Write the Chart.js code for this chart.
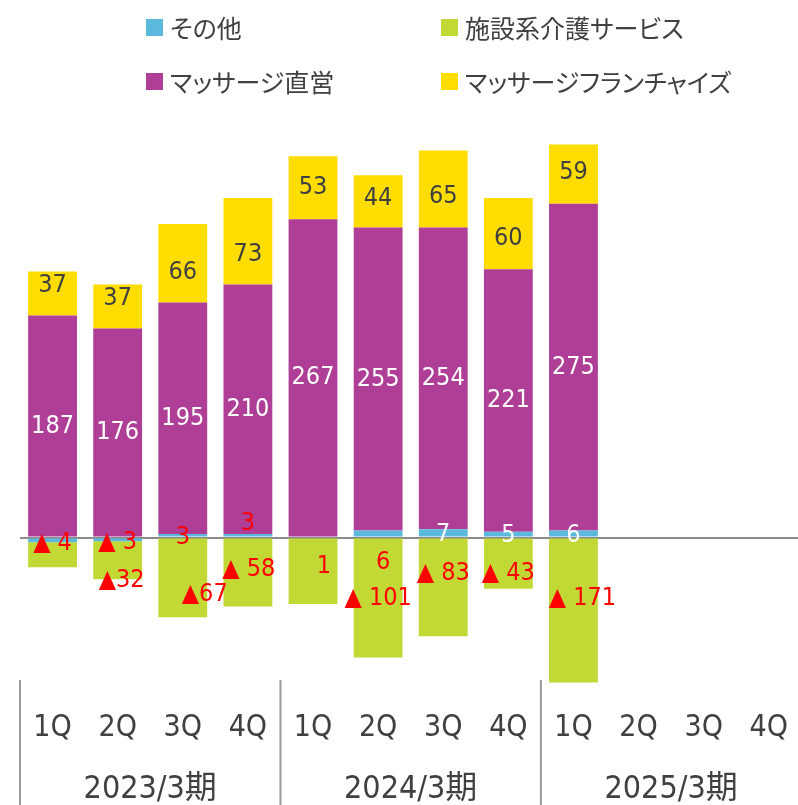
<!DOCTYPE html>
<html>
    <head>
        <title>Segment Results</title>
        <meta charset="UTF-8">
        <script src="https://cdn.jsdelivr.net/npm/chart.js@4.4.0/dist/chart.umd.min.js"></script>
        <style>
            html, body { margin: 0; padding: 0; background: #fff; overflow: hidden; }
            .wrap { position: relative; width: 798px; height: 805px; overflow: hidden; }
            .legend-item {
                position: absolute;
                display: flex;
                align-items: center;
                height: 30px;
                font-family: "Noto Sans CJK JP", sans-serif;
                font-size: 25px;
                line-height: 30px;
                color: #404040;
                font-feature-settings: "palt";
                white-space: nowrap;
            }
            .swatch { width: 17px; height: 17px; margin-right: 7px; }
        </style>
    </head>
    <body>
        <div class="wrap">
            <canvas id="segChart" width="806" height="805"></canvas>
            <div id="legend"></div>
        </div>

        <script>
            // categories
            const quarters = ['1Q', '2Q', '3Q', '4Q', '1Q', '2Q', '3Q', '4Q', '1Q', '2Q', '3Q', '4Q'];
            const periods = ['2023/3期', '2024/3期', '2025/3期'];

            // series (bar heights as drawn)
            const other     = [-4, -3, 3, 3, 1, 6, 7, 5, 6, null, null, null];
            const care      = [-21, -32, -67, -58, -56, -101, -83, -43, -122, null, null, null];
            const direct    = [187, 176, 195, 210, 267, 255, 254, 221, 275, null, null, null];
            const franchise = [37, 37, 66, 73, 53, 44, 65, 60, 50, null, null, null];

            // printed labels
            const otherText     = ['▲ 4', '▲ 3', '3', '3', '1', '6', '7', '5', '6'];
            const careText      = ['', '▲32', '▲67', '▲ 58', '', '▲ 101', '▲ 83', '▲ 43', '▲ 171'];
            const directText    = ['187', '176', '195', '210', '267', '255', '254', '221', '275'];
            const franchiseText = ['37', '37', '66', '73', '53', '44', '65', '60', '59'];

            const seriesNames = ['その他', '施設系介護サービス', 'マッサージ直営', 'マッサージフランチャイズ'];
            const seriesColors = ['#5BB9DE', '#C2D835', '#AE3E96', '#FFDD00'];

            // label placement tweaks (px, from segment centre)
            const otherShiftY     = [3, 3, 2, -12, 30, 29, 2, 1, 2];
            const otherShiftX     = [0, 0, 0, 0, 11, 5, 0, 0, 0];
            const careShiftY      = [0, 20, 17, -3, 0, 0, -14, 10, -12];
            const careShiftX      = [0, 4, 22, 1, 0, 0, 0, 0, 9];
            const franchiseShiftY = [-8, -8, 9, 13, 0, -3, 8, 5, -2];

            const red = '#FF0000';
            const grey = '#404040';
            const numFont = '"DejaVu Sans Condensed", "Noto Sans CJK JP", sans-serif';

            const labelSets = [
                { text: otherText, dx: otherShiftX, dy: otherShiftY,
                  color: ['red', 'red', 'red', 'red', 'red', 'red', 'white', 'white', 'white'] },
                { text: careText, dx: careShiftX, dy: careShiftY, color: 'red' },
                { text: directText, color: 'white' },
                { text: franchiseText, dy: franchiseShiftY, color: grey }
            ];

            // legend (2 x 2)
            const legendPos = [[146, 12], [441, 12], [146, 66], [441, 66]];
            const legendBox = document.getElementById('legend');
            seriesNames.forEach((name, i) => {
                const item = document.createElement('div');
                item.className = 'legend-item';
                item.style.left = legendPos[i][0] + 'px';
                item.style.top = legendPos[i][1] + 'px';
                item.innerHTML = '<span class="swatch" style="background:' + seriesColors[i] + '"></span>' + name;
                legendBox.appendChild(item);
            });

            // value labels on the bars
            const barLabels = {
                id: 'barLabels',
                afterDraw(chart) {
                    const ctx = chart.ctx;
                    ctx.save();
                    ctx.font = '25px ' + numFont;
                    ctx.textAlign = 'center';
                    ctx.textBaseline = 'middle';
                    labelSets.forEach((set, di) => {
                        const meta = chart.getDatasetMeta(di);
                        meta.data.forEach((bar, i) => {
                            const t = set.text[i];
                            if (!t) return;
                            const p = bar.getProps(['x', 'y', 'base'], true);
                            const dx = set.dx ? set.dx[i] : 0;
                            const dy = set.dy ? set.dy[i] : 0;
                            let c = Array.isArray(set.color) ? set.color[i] : set.color;
                            if (c === 'red') c = red;
                            ctx.fillStyle = c;
                            ctx.fillText(t, p.x + dx, (p.y + p.base) / 2 + dy);
                        });
                    });
                    ctx.restore();
                }
            };

            // fiscal year row + separators under the quarter labels
            const periodAxis = {
                id: 'periodAxis',
                afterDraw(chart) {
                    const ctx = chart.ctx;
                    const xs = chart.scales.x;
                    const half = (xs.getPixelForValue(1) - xs.getPixelForValue(0)) / 2;
                    ctx.save();
                    ctx.strokeStyle = '#9a9a9a';
                    ctx.lineWidth = 2;
                    ctx.fillStyle = grey;
                    ctx.font = '32px ' + numFont;
                    ctx.textAlign = 'center';
                    ctx.textBaseline = 'middle';
                    periods.forEach((p, g) => {
                        const left = xs.getPixelForValue(g * 4) - half;
                        const right = xs.getPixelForValue(g * 4 + 3) + half;
                        ctx.beginPath();
                        ctx.moveTo(left, 680);
                        ctx.lineTo(left, 805);
                        ctx.stroke();
                        ctx.fillText(p, (left + right) / 2, 790);
                    });
                    ctx.restore();
                }
            };

            const ctx = document.getElementById('segChart').getContext('2d');
            const chart = new Chart(ctx, {
                type: 'bar',
                data: {
                    labels: quarters,
                    datasets: [
                        { label: seriesNames[0], data: other, backgroundColor: seriesColors[0] },
                        { label: seriesNames[1], data: care, backgroundColor: seriesColors[1] },
                        { label: seriesNames[2], data: direct, backgroundColor: seriesColors[2] },
                        { label: seriesNames[3], data: franchise, backgroundColor: seriesColors[3] }
                    ]
                },
                options: {
                    responsive: false,
                    animation: false,
                    categoryPercentage: 1,
                    barPercentage: 0.75,
                    layout: { padding: { top: 110, left: 20, right: 0, bottom: 41 } },
                    plugins: {
                        legend: { display: false },
                        tooltip: { enabled: false }
                    },
                    scales: {
                        x: {
                            stacked: true,
                            grid: { display: false, drawTicks: false },
                            border: { display: false },
                            ticks: {
                                color: grey,
                                font: { family: numFont, size: 30 },
                                padding: 18,
                                autoSkip: false,
                                maxRotation: 0
                            }
                        },
                        y: {
                            stacked: true,
                            min: -130,
                            max: 360,
                            z: 1,
                            border: { display: false },
                            ticks: { display: false, stepSize: 10 },
                            grid: {
                                drawTicks: false,
                                lineWidth: 2,
                                color: c => (c.tick && c.tick.value === 0) ? '#8c8c8c' : 'transparent'
                            }
                        }
                    }
                },
                plugins: [barLabels, periodAxis]
            });
        </script>
    </body>
</html>
